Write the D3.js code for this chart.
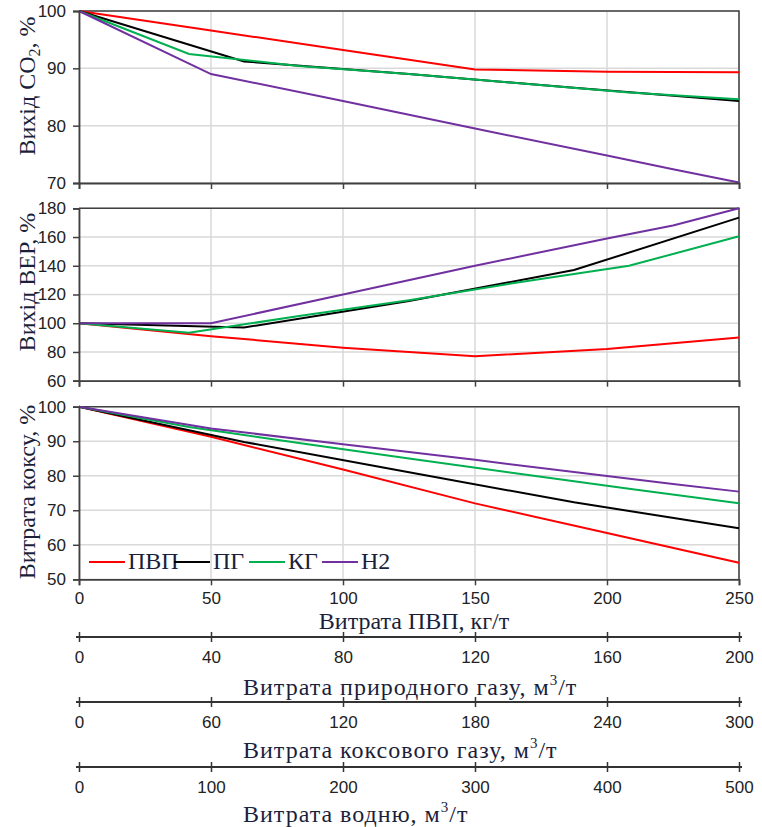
<!DOCTYPE html>
<html>
<head>
<meta charset="utf-8">
<script src="https://cdn.jsdelivr.net/npm/d3@7"></script>
<style>
  body { margin: 0; background: #fff; }
  .tick text { font-family: "Liberation Sans", Arial, sans-serif; font-size: 17px; fill: #222; }
  .ttl { font-family: "Liberation Serif", "Times New Roman", serif; font-size: 24px; fill: #1b1f3b; }
</style>
</head>
<body>
<div id="chart"></div>
<script>
// Set up conventions
let width = 762;
let height = 827;
let xLeft = 79, xRight = 739;

// series names + colours
let names = ["ПВП", "ПГ", "КГ", "Н2"];
let colors = ["#ff0000", "#000000", "#00b050", "#7030a0"];

// x values in each series' own units
let xPVP = [0, 50, 100, 150, 200, 250];          // кг/т
let xPG = [0, 50, 100, 150, 200];                // м3/т природного газу
let xKG = [0, 50, 100, 150, 200, 250, 300];      // м3/т коксового газу
let xH2 = [0, 100, 200, 300, 400, 450, 500];     // м3/т водню

// Вихід CO2, %
let co2PVP = [100, 96.6, 93.2, 89.8, 89.4, 89.3];
let co2PG = [100, 91.2, 89.0, 86.6, 84.3];
let co2KG = [100, 92.5, 90.4, 89.0, 87.4, 85.8, 84.6];
let co2H2 = [100, 89.0, 84.3, 79.5, 74.8, 72.4, 70.1];

// Вихід ВЕР, %
let verPVP = [100, 91, 83, 77, 82, 90];
let verPG = [100, 97, 115.5, 137, 173.5];
let verKG = [100, 93.4, 105, 116, 128.5, 140, 160.5];
let verH2 = [100, 100, 120, 140, 159, 168, 180];

// Витрата коксу, %
let cokePVP = [100, 91.3, 81.8, 72.0, 63.4, 54.8];
let cokePG = [100, 89.8, 81.0, 72.3, 64.8];
let cokeKG = [100, 94.1, 89.5, 85.0, 80.6, 76.2, 72.0];
let cokeH2 = [100, 93.7, 89.1, 84.6, 79.9, 77.6, 75.4];

// tick labels
let xTicksPVP = [0, 50, 100, 150, 200, 250];
let xTicksPG = [0, 40, 80, 120, 160, 200];
let xTicksKG = [0, 60, 120, 180, 240, 300];
let xTicksH2 = [0, 100, 200, 300, 400, 500];
let yTicksCO2 = [70, 80, 90, 100];
let yTicksVER = [60, 80, 100, 120, 140, 160, 180];
let yTicksCoke = [50, 60, 70, 80, 90, 100];

let svg = d3.select("#chart")
    .append("svg")
    .attr("width", width)
    .attr("height", height)

// one x scale per unit, all over the same pixels
let xScalePVP = d3.scaleLinear().domain([0, 250]).range([xLeft, xRight])
let xScalePG = d3.scaleLinear().domain([0, 200]).range([xLeft, xRight])
let xScaleKG = d3.scaleLinear().domain([0, 300]).range([xLeft, xRight])
let xScaleH2 = d3.scaleLinear().domain([0, 500]).range([xLeft, xRight])
let xScales = [xScalePVP, xScalePG, xScaleKG, xScaleH2]
let xsAll = [xPVP, xPG, xKG, xH2]

let panels = [
    {top: 11, bottom: 183, domain: [70, 100], ticks: yTicksCO2, vals: [co2PVP, co2PG, co2KG, co2H2], labels: false},
    {top: 208.3, bottom: 380.7, domain: [60, 180], ticks: yTicksVER, vals: [verPVP, verPG, verKG, verH2], labels: false},
    {top: 406.7, bottom: 579.3, domain: [50, 100], ticks: yTicksCoke, vals: [cokePVP, cokePG, cokeKG, cokeH2], labels: true}
]

panels.forEach(function (p, pi) {
    let yScale = d3.scaleLinear().domain(p.domain).range([p.bottom, p.top])
    let g = svg.append("g").attr("class", "panel" + pi)

    // gridlines
    g.selectAll(".hgrid").data(p.ticks).enter().append("line")
        .attr("x1", xLeft).attr("x2", xRight)
        .attr("y1", d => yScale(d)).attr("y2", d => yScale(d))
        .attr("stroke", "#d9d9d9").attr("stroke-width", 1.5)
    g.selectAll(".vgrid").data(xTicksPVP).enter().append("line")
        .attr("x1", d => xScalePVP(d)).attr("x2", d => xScalePVP(d))
        .attr("y1", p.top).attr("y2", p.bottom)
        .attr("stroke", "#d9d9d9").attr("stroke-width", 1.5)

    // frame top + right
    g.append("path")
        .attr("d", "M" + xLeft + "," + p.top + "H" + xRight + "V" + p.bottom)
        .attr("fill", "none").attr("stroke", "#404040").attr("stroke-width", 1.5)

    // lines
    let line = d3.line()
    p.vals.forEach(function (vals, si) {
        let pts = vals.map((v, i) => [xScales[si](xsAll[si][i]), yScale(v)])
        g.append("path")
            .attr("d", line(pts))
            .attr("fill", "none")
            .attr("stroke", colors[si])
            .attr("stroke-width", 2)
    })

    // axes
    let yAxis = d3.axisLeft(yScale).tickValues(p.ticks).tickSize(6).tickPadding(7)
    g.append("g").attr("class", "yaxis")
        .attr("transform", "translate(" + xLeft + ",0)")
        .call(yAxis)
    let xAxis = d3.axisBottom(xScalePVP).tickValues(xTicksPVP).tickSize(6).tickPadding(7)
    if (!p.labels) xAxis.tickFormat("")
    g.append("g").attr("class", "xaxis")
        .attr("transform", "translate(0," + p.bottom + ")")
        .call(xAxis)
    g.selectAll(".domain").attr("stroke", "#404040").attr("stroke-width", 1.8)
    g.selectAll(".tick line").attr("stroke", "#404040").attr("stroke-width", 1.5)
})

// y titles
let yTitles = [
    {y: 86, parts: [["Вихід CO", 0], ["2", 1], [", %", 0]]},
    {y: 282, parts: [["Вихід ВЕР, %", 0]]},
    {y: 492, parts: [["Витрата коксу, %", 0]]}
]
yTitles.forEach(function (t) {
    let txt = svg.append("text")
        .attr("class", "ttl")
        .attr("transform", "translate(35," + t.y + ") rotate(-90)")
        .attr("text-anchor", "middle")
    t.parts.forEach(function (pt) {
        let ts = txt.append("tspan").text(pt[0])
        if (pt[1]) ts.attr("font-size", "16px").attr("dy", 5)
        else if (txt.selectAll("tspan").size() > 1) ts.attr("dy", -5)
    })
})

// legend
let legend = svg.append("g").attr("class", "legend")
let legX = [89, 174, 249, 322]
names.forEach(function (n, i) {
    legend.append("line")
        .attr("x1", legX[i]).attr("x2", legX[i] + 36)
        .attr("y1", 562).attr("y2", 562)
        .attr("stroke", colors[i]).attr("stroke-width", 2)
    legend.append("text")
        .attr("class", "ttl")
        .attr("font-size", "21px")
        .attr("x", legX[i] + 39).attr("y", 569)
        .text(n)
})

// main x title
svg.append("text").attr("class", "ttl")
    .attr("x", 414).attr("y", 629)
    .attr("text-anchor", "middle")
    .text("Витрата ПВП, кг/т")

// extra x axes
let extra = [
    {y: 637, scale: xScalePG, ticks: xTicksPG, title: "Витрата природного газу, м", ty: 695},
    {y: 702, scale: xScaleKG, ticks: xTicksKG, title: "Витрата коксового газу, м", ty: 758},
    {y: 767, scale: xScaleH2, ticks: xTicksH2, title: "Витрата водню, м", ty: 822}
]
extra.forEach(function (e) {
    let ax = d3.axisBottom(e.scale).tickValues(e.ticks).tickSizeInner(5).tickSizeOuter(0).tickPadding(9)
    let g = svg.append("g")
        .attr("transform", "translate(0," + e.y + ")")
        .call(ax)
    g.select(".domain").attr("stroke", "#333").attr("stroke-width", 2)
        .attr("d", "M" + (xLeft - 3) + ",0H" + (xRight + 3))
    g.selectAll(".tick line").attr("y1", -5).attr("y2", 5).attr("stroke", "#333").attr("stroke-width", 1.5)
    let t = svg.append("text").attr("class", "ttl")
        .attr("x", 243).attr("y", e.ty)
        .attr("letter-spacing", "1px")
    t.append("tspan").text(e.title)
    t.append("tspan").text("3").attr("font-size", "15px").attr("dy", -10)
    t.append("tspan").text("/т").attr("dy", 10)
})
</script>
</body>
</html>
